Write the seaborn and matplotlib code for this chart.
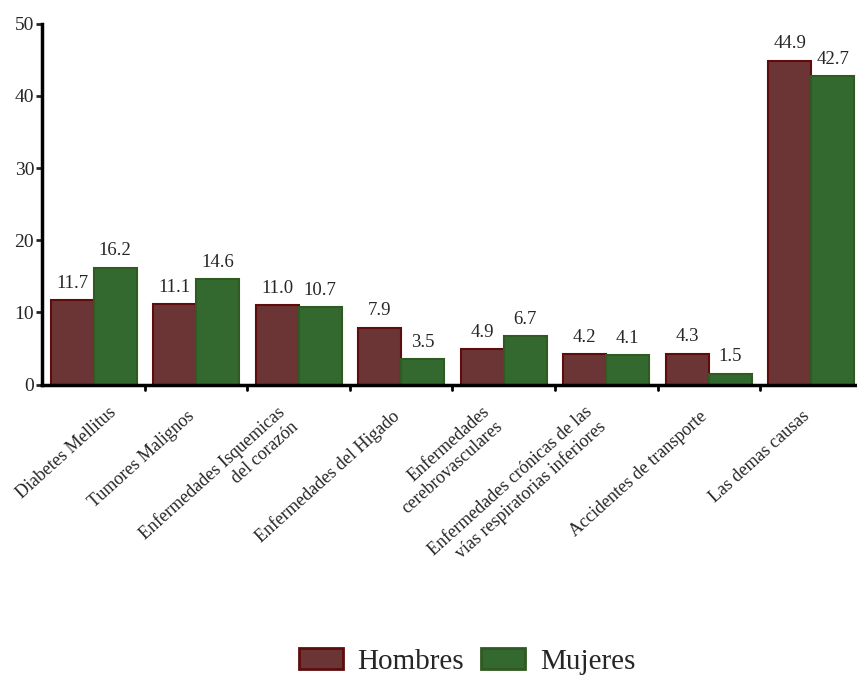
import pandas as pd
import matplotlib
matplotlib.use('Agg')
import matplotlib.pyplot as plt
import matplotlib.transforms as mtransforms
import seaborn as sns

# Data
causas = ['Diabetes Mellitus', 'Tumores Malignos', 'Enfermedades Isquemicas\ndel corazón',
          'Enfermedades del Higado', 'Enfermedades\ncerebrovasculares',
          'Enfermedades crónicas de las\nvías respiratorias inferiores',
          'Accidentes de transporte', 'Las demas causas']
hombres = [11.7, 11.1, 11.0, 7.9, 4.9, 4.2, 4.3, 44.9]
mujeres = [16.2, 14.6, 10.7, 3.5, 6.7, 4.1, 1.5, 42.7]
series = ['Hombres', 'Mujeres']

df = pd.DataFrame({
    'causa': causas * 2,
    'valor': hombres + mujeres,
    'sexo': [series[0]] * len(causas) + [series[1]] * len(causas),
})

sns.set_style('white')
plt.rcParams['font.family'] = ['Liberation Serif', 'DejaVu Serif']

fig = plt.figure(figsize=(8.57, 6.77), dpi=100)
ax = fig.add_axes([0.0495, 0.432, 0.957, 0.533])

palette = {'Hombres': '#6b3535', 'Mujeres': '#33692e'}
edges = {'Hombres': '#5e0c0c', 'Mujeres': '#2f5a22'}
sns.barplot(data=df, x='causa', y='valor', hue='sexo', palette=palette,
            width=0.84, saturation=1, ax=ax, legend=True)

for cont, s in zip(ax.containers, series):
    for bar in cont:
        bar.set_edgecolor(edges[s])
        bar.set_linewidth(1.5)
    ax.bar_label(cont, fmt='%.1f', padding=6, fontsize=13.5)

ax.set_ylim(0, 50)
ax.set_yticks(range(0, 51, 10))
ax.set_xlim(-0.5, len(causas) - 0.5)
ax.set_xlabel('')
ax.set_ylabel('')
ax.tick_params(axis='y', labelsize=14, left=True, length=4, width=2, pad=2)

# category labels rotated, tick marks at group boundaries
ax.set_xticks(range(len(causas)))
ax.set_xticklabels(causas, rotation=42, ha='right', va='top',
                   rotation_mode='anchor', fontsize=13, multialignment='right')
ax.tick_params(axis='x', bottom=False, pad=14)
for i, t in enumerate(ax.get_xticklabels()):
    if i == 0:
        dx, dy = 14, 5
    elif '\n' in t.get_text():
        dx, dy = -22, 6
    else:
        dx, dy = -10, 1
    shift = mtransforms.ScaledTranslation(dx / 100, dy / 100, fig.dpi_scale_trans)
    t.set_transform(t.get_transform() + shift)
for b in range(1, len(causas)):
    ax.plot([b - 0.5, b - 0.5], [0, -0.8], color='black', lw=2, clip_on=False)

sns.despine(ax=ax, top=True, right=True)
ax.spines['left'].set_linewidth(2.5)
ax.spines['bottom'].set_linewidth(2.5)
ax.spines['left'].set_color('black')
ax.spines['bottom'].set_color('black')

handles, labels = ax.get_legend_handles_labels()
for h, s in zip(handles, labels):
    h.set_edgecolor(edges[s])
    h.set_linewidth(2)
ax.legend_.remove()
fig.legend(handles, labels, loc='center', bbox_to_anchor=(0.545, 0.023), ncol=2,
           frameon=False, fontsize=21, handlelength=1.5, handleheight=0.75,
           handletextpad=0.5, columnspacing=0.6, borderaxespad=0)

fig.savefig('out.png', dpi=100)
